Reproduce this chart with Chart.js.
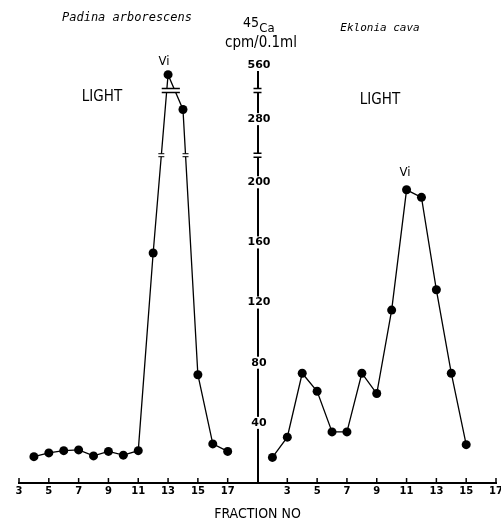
<!DOCTYPE html>
<html lang="en"><head>
<meta charset="utf-8">
<script src="https://cdn.jsdelivr.net/npm/chart.js@4/dist/chart.umd.min.js"></script>
<style>body{margin:0;background:#fff}</style>
</head>
<body>
<canvas id="myChart" width="501" height="523"></canvas>
<script>
const padinaFractions = [4, 5, 6, 7, 8, 9, 10, 11, 12, 13, 14, 15, 16, 17];
const padinaCounts = [17.5, 20, 21.5, 22, 18, 21, 18.5, 21.5, 153, 510, 330, 72, 26, 21];
const ekloniaFractions = [2, 3, 4, 5, 6, 7, 8, 9, 10, 11, 12, 13, 14, 15];
const ekloniaCounts = [17, 30.5, 73, 61, 34, 34, 73, 59.5, 115, 195, 190, 128.5, 73, 25.5];
const fractionTicks = [3, 5, 7, 9, 11, 13, 15, 17];
const countTicks = [40, 80, 120, 160, 200, 280, 560];

const panelShift = 18;   // right panel is drawn 18 fractions further along x
const axisAt = 19;       // shared y axis sits between the panels
const narrow = "'Liberation Sans Narrow','DejaVu Sans Condensed',sans-serif";

// broken y axis: 0-200 linear, 200-280 and 280-560 squeezed
function squeeze(v) {
  if (v <= 200) return v;
  if (v <= 280) return 200 + (v - 200) * 42 / 80;
  return 242 + (v - 280) * 36 / 280;
}
const breaks = [218, 261];

function points(xs, ys, shift) {
  return xs.map((f, i) => ({x: f + shift, y: squeeze(ys[i])}));
}

function crossings(meta, py) {
  const out = [];
  for (let i = 1; i < meta.data.length; i++) {
    const a = meta.data[i - 1], b = meta.data[i];
    if ((a.y - py) * (b.y - py) < 0) {
      out.push(a.x + (b.x - a.x) * (py - a.y) / (b.y - a.y));
    }
  }
  return out;
}

const extras = {
  id: 'extras',
  afterDraw(chart) {
    const ctx = chart.ctx;
    const xs = chart.scales.x, ys = chart.scales.y;
    const ax = xs.getPixelForValue(axisAt);
    const bottom = chart.chartArea.bottom;
    ctx.save();
    ctx.strokeStyle = '#000';
    ctx.fillStyle = '#000';

    // tick marks pointing up
    ctx.lineWidth = 1.5;
    xs.ticks.forEach(t => {
      const px = xs.getPixelForValue(t.value);
      ctx.beginPath();
      ctx.moveTo(px, bottom);
      ctx.lineTo(px, bottom - 5);
      ctx.stroke();
    });

    // breaks on the y axis
    breaks.forEach(b => {
      const py = ys.getPixelForValue(b);
      ctx.fillStyle = '#fff';
      ctx.fillRect(ax - 2, py - 2, 4, 4);
      ctx.lineWidth = 1.5;
      ctx.beginPath();
      ctx.moveTo(ax - 4, py - 2); ctx.lineTo(ax + 4, py - 2);
      ctx.moveTo(ax - 4, py + 2); ctx.lineTo(ax + 4, py + 2);
      ctx.stroke();
    });

    // breaks on the Padina peak
    const meta = chart.getDatasetMeta(0);
    const lowY = ys.getPixelForValue(breaks[0]);
    crossings(meta, lowY).forEach(cx => {
      ctx.fillStyle = '#fff';
      ctx.fillRect(cx - 3, lowY - 1.5, 6, 3);
      ctx.beginPath();
      ctx.lineWidth = 1;
      ctx.moveTo(cx - 3, lowY - 1.5); ctx.lineTo(cx + 3, lowY - 1.5);
      ctx.moveTo(cx - 3, lowY + 1.5); ctx.lineTo(cx + 3, lowY + 1.5);
      ctx.stroke();
    });
    const highY = ys.getPixelForValue(breaks[1]);
    const hx = crossings(meta, highY);
    if (hx.length) {
      const x0 = Math.min(...hx) - 5, x1 = Math.max(...hx) + 5;
      ctx.fillStyle = '#fff';
      ctx.fillRect(x0, highY - 2, x1 - x0, 4);
      ctx.lineWidth = 1.5;
      ctx.beginPath();
      ctx.moveTo(x0, highY - 2); ctx.lineTo(x1, highY - 2);
      ctx.moveTo(x0, highY + 2); ctx.lineTo(x1, highY + 2);
      ctx.stroke();
    }

    // y tick labels centred on the axis line
    ctx.font = "bold 11px 'DejaVu Sans'";
    ctx.textAlign = 'center';
    ctx.textBaseline = 'middle';
    countTicks.forEach(v => {
      const py = ys.getPixelForValue(squeeze(v));
      const w = ctx.measureText(String(v)).width;
      ctx.fillStyle = '#fff';
      ctx.fillRect(ax + 1.5 - w / 2 - 2, py - 6, w + 4, 12);
      ctx.fillStyle = '#000';
      ctx.fillText(String(v), ax + 1.5, py);
    });

    // annotations
    ctx.font = "italic 12px 'DejaVu Sans Mono'";
    ctx.fillText('Padina arborescens', 127, 18);
    ctx.font = "italic 11px 'DejaVu Sans Mono'";
    ctx.fillText('Eklonia cava', 380, 28);
    ctx.font = '15px ' + narrow;
    ctx.fillText('LIGHT', 102, 97);
    ctx.fillText('LIGHT', 380, 100);
    ctx.font = '13px ' + narrow;
    ctx.fillText('Vi', 164, 62);
    ctx.fillText('Vi', 405, 173);
    ctx.font = '14px ' + narrow;
    ctx.fillText('45', 251, 23);
    ctx.font = '13px ' + narrow;
    ctx.fillText('Ca', 267, 29);
    ctx.font = '15px ' + narrow;
    ctx.fillText('cpm/0.1ml', 261, 43);
    ctx.restore();
  }
};

const lineStyle = {
  borderColor: '#000',
  borderWidth: 1.3,
  pointRadius: 4.5,
  pointBackgroundColor: '#000',
  pointBorderWidth: 0,
  tension: 0,
  clip: false
};

new Chart(document.getElementById('myChart'), {
  type: 'line',
  data: {
    datasets: [
      Object.assign({label: 'Padina arborescens', data: points(padinaFractions, padinaCounts, 0)}, lineStyle),
      Object.assign({label: 'Eklonia cava', data: points(ekloniaFractions, ekloniaCounts, panelShift)}, lineStyle)
    ]
  },
  options: {
    responsive: false,
    animation: false,
    layout: {padding: {top: 65, left: 19, right: 5, bottom: 0}},
    plugins: {legend: {display: false}, tooltip: {enabled: false}},
    scales: {
      x: {
        type: 'linear',
        min: 3,
        max: 35,
        grid: {display: false},
        border: {color: '#000', width: 2},
        afterBuildTicks: axis => {
          axis.ticks = fractionTicks.concat(fractionTicks.map(f => f + panelShift)).map(v => ({value: v}));
        },
        afterFit: s => { s.height = 40; s.paddingLeft = 0; s.paddingRight = 0; },
        ticks: {
          color: '#000',
          font: {family: 'DejaVu Sans', size: 10, weight: 'bold'},
          padding: -6,
          maxRotation: 0,
          autoSkip: false,
          callback: v => v > axisAt ? v - panelShift : v
        },
        title: {
          display: true,
          text: 'FRACTION NO',
          color: '#000',
          font: {family: narrow, size: 14},
          padding: {top: 7, bottom: 0}
        }
      },
      y: {
        type: 'linear',
        position: {x: axisAt},
        min: 0,
        max: squeeze(560),
        grid: {display: false},
        border: {color: '#000', width: 2},
        afterBuildTicks: axis => {
          axis.ticks = countTicks.map(v => ({value: squeeze(v)}));
        },
        ticks: {display: false}
      }
    }
  },
  plugins: [extras]
});
</script>
</body></html>
